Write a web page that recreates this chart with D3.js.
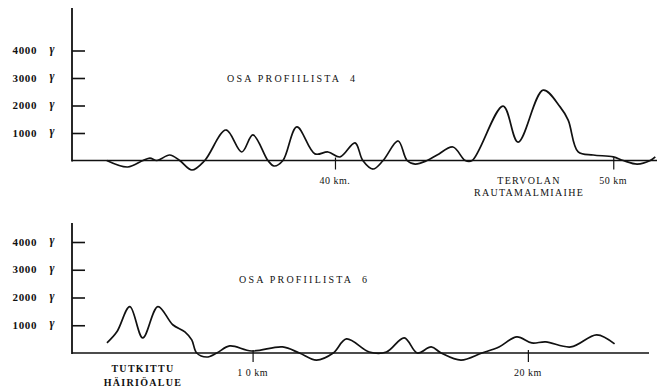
<!DOCTYPE html>
<html>
<head>
<meta charset="utf-8">
<script src="https://cdn.jsdelivr.net/npm/d3@7"></script>
<style>
  body { margin: 0; background: #fff; }
  svg { display: block; }
  text { font-family: "Liberation Serif", "DejaVu Serif", serif; fill: #111; }
</style>
</head>
<body>
<svg id="chart" width="665" height="390"></svg>
<script>
// ---- Data ----
const yTickValues = [1000, 2000, 3000, 4000];
const yTickLabels = ["1000", "2000", "3000", "4000"];
const yUnit = "γ";

// Profile 4 (top): distance in km, anomaly in gamma
const topKm = [31.8, 32.55, 33.1, 33.35, 33.6, 34.06, 34.42, 34.86, 35.32, 36.08, 36.65, 37.05, 37.59, 37.81, 38.13, 38.63, 39.28, 39.75, 40.18, 40.72, 41.0, 41.37, 41.73, 42.27, 42.59, 42.88, 43.31, 43.67, 44.24, 44.68, 44.93, 46.04, 46.58, 47.48, 48.09, 48.38, 48.74, 49.28, 50.0, 50.36, 50.86, 51.33, 51.51];
const topNT = [0, -236, 0, 90, 0, 200, 0, -345, 0, 1110, 310, 930, 0, -200, 0, 1220, 240, 310, 130, 640, 0, -310, 0, 710, 0, -130, 0, 200, 490, 0, 0, 1980, 670, 2560, 1950, 1470, 310, 200, 130, 0, -130, 0, 130];
const topXTicks = [40, 50];
const topXLabels = ["40 km.", "50 km"];
const topTitle = "OSA PROFIILISTA  4";
const topNote = ["TERVOLAN", "RAUTAMALMIAIHE"];

// Profile 6 (bottom)
const botKm = [4.71, 5.07, 5.54, 6.01, 6.56, 7.10, 7.54, 7.79, 7.97, 8.33, 8.70, 9.17, 9.96, 11.09, 11.70, 12.32, 12.93, 13.41, 14.24, 14.86, 15.51, 15.98, 16.49, 16.85, 17.57, 18.33, 18.95, 19.60, 20.14, 20.65, 21.56, 22.50, 23.15];
const botNT = [364, 764, 1673, 545, 1673, 1018, 764, 473, 0, -145, 0, 255, 73, 218, 0, -255, 0, 509, 36, 36, 545, 0, 218, 0, -255, 0, 218, 582, 364, 400, 218, 655, 327];
const botXTicks = [10, 20];
const botXLabels = ["1 0 km", "20 km"];
const botTitle = "OSA PROFIILISTA  6";
const botNote = ["TUTKITTU", "HÄIRIÖALUE"];

// ---- Drawing ----
const svg = d3.select("#chart");

function panel(cfg) {
  const g = svg.append("g");
  const x = d3.scaleLinear().domain(cfg.xDomain).range([72, cfg.xRight]);
  const y = d3.scaleLinear().domain([0, 4000]).range([cfg.base, cfg.y4000]);

  // vertical axis line
  g.append("line")
    .attr("x1", 72).attr("x2", 72)
    .attr("y1", cfg.axisTop).attr("y2", cfg.base + 1)
    .attr("stroke", "#111").attr("stroke-width", 1.8);

  // y ticks (to the right of axis)
  const yAxis = g.append("g").attr("transform", "translate(72,0)")
    .call(d3.axisRight(y).tickValues(yTickValues).tickSize(13).tickFormat(""));
  yAxis.select(".domain").remove();
  yAxis.selectAll(".tick line").attr("stroke", "#111").attr("stroke-width", 1.6);

  // y labels
  g.selectAll("text.ylab").data(yTickValues).enter().append("text")
    .attr("class", "ylab")
    .attr("x", 37).attr("y", d => y(d) + 3.5)
    .attr("text-anchor", "end")
    .style("font-size", "11px").style("font-weight", "bold").style("letter-spacing", "0.6px")
    .text((d, i) => yTickLabels[i]);
  g.selectAll("text.yunit").data(yTickValues).enter().append("text")
    .attr("class", "yunit")
    .attr("x", 52).attr("y", d => y(d) + 2)
    .attr("text-anchor", "middle")
    .style("font-size", "12px").style("font-weight", "bold").style("font-style", "italic")
    .text(yUnit);

  // baseline + x ticks
  const xAxis = g.append("g").attr("transform", `translate(0,${cfg.base})`)
    .call(d3.axisBottom(x).tickValues(cfg.xTicks).tickSize(9).tickFormat(""));
  xAxis.select(".domain").attr("stroke", "#111").attr("stroke-width", 1.6)
    .attr("d", `M72,0H${cfg.baseRight}`);
  xAxis.selectAll(".tick line").attr("stroke", "#111").attr("stroke-width", 1.2).attr("y1", -3);

  g.selectAll("text.xlab").data(cfg.xTicks).enter().append("text")
    .attr("class", "xlab")
    .attr("x", d => x(d)).attr("y", cfg.base + 23)
    .attr("text-anchor", "middle")
    .style("font-size", "10px").style("letter-spacing", "0.5px")
    .text((d, i) => cfg.xLabels[i]);

  // curve
  const pts = cfg.km.map((k, i) => [k, cfg.nt[i]]);
  g.append("path")
    .datum(pts)
    .attr("fill", "none").attr("stroke", "#111").attr("stroke-width", 1.7)
    .attr("stroke-linejoin", "round")
    .attr("d", d3.line().x(d => x(d[0])).y(d => y(d[1])).curve(d3.curveCatmullRom.alpha(0.5)));

  // title
  g.append("text")
    .attr("x", cfg.titleX).attr("y", cfg.titleY)
    .style("font-size", "10px").style("letter-spacing", "2.2px").style("white-space", "pre")
    .text(cfg.title);

  // note
  cfg.note.forEach((t, i) => {
    g.append("text")
      .attr("x", cfg.noteX).attr("y", cfg.noteY + i * cfg.noteDy)
      .attr("text-anchor", "middle")
      .style("font-size", "10px").style("letter-spacing", "1.3px")
      .style("font-weight", cfg.noteBold ? "bold" : "normal")
      .text(t);
  });
}

panel({
  xDomain: [30.55, 51.5], xRight: 655, baseRight: 657,
  base: 160.5, y4000: 50.5, axisTop: 8,
  xTicks: topXTicks, xLabels: topXLabels,
  km: topKm, nt: topNT,
  title: topTitle, titleX: 227, titleY: 82,
  note: topNote, noteX: 529, noteY: 184, noteDy: 12, noteBold: false
});

panel({
  xDomain: [3.44, 24.4], xRight: 649, baseRight: 649,
  base: 353, y4000: 242, axisTop: 223,
  xTicks: botXTicks, xLabels: botXLabels,
  km: botKm, nt: botNT,
  title: botTitle, titleX: 239, titleY: 283,
  note: botNote, noteX: 143, noteY: 372, noteDy: 14, noteBold: true
});
</script>
</body>
</html>
